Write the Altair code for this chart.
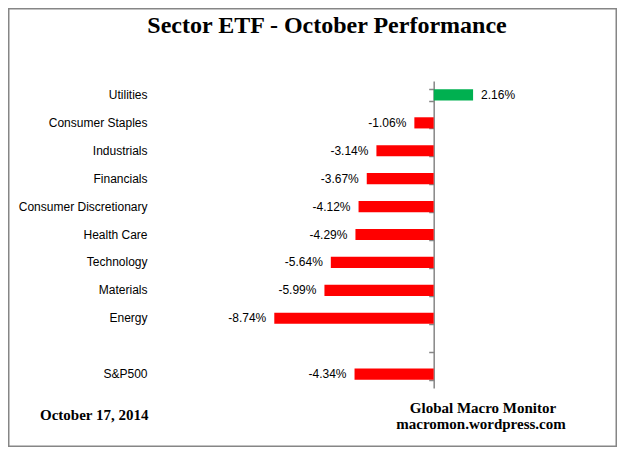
import altair as alt
import pandas as pd

# ---- data ----
categories = ["Utilities", "Consumer Staples", "Industrials", "Financials",
              "Consumer Discretionary", "Health Care", "Technology",
              "Materials", "Energy", "S&P500"]
returns = [2.16, -1.06, -3.14, -3.67, -4.12, -4.29, -5.64, -5.99, -8.74, -4.34]
slot_order = categories[:9] + [" "] + categories[9:]
title_text = ["Sector ETF - October Performance"]
date_text = ["October 17, 2014"]
source_lines = ["Global Macro Monitor", "macromon.wordpress.com"]

df = pd.DataFrame({"sector": categories, "ret": returns})
df["label"] = [f"{v:.2f}%" for v in returns]
df["sign"] = ["pos" if v >= 0 else "neg" for v in returns]

# ---- layout ----
W, H = 383, 307
XMIN, XMAX = -15.5, 5.5
PAD = {"left": 143, "top": 73, "right": 83, "bottom": 59}
zero_px = W * (0 - XMIN) / (XMAX - XMIN)
LABEL_FONT = "Liberation Sans"
SERIF = "Liberation Serif"
GREY = "#868686"

yscale = alt.Scale(domain=slot_order, paddingInner=0.6, paddingOuter=0.3)
xscale = alt.Scale(domain=[XMIN, XMAX], nice=False)
x_enc = alt.X("ret:Q", scale=xscale, axis=None)

label_axis = alt.Axis(orient="left", domain=False, ticks=False, labelPadding=4,
                      labelFontSize=12, labelFont=LABEL_FONT, labelColor="black",
                      labelLimit=300, grid=False, title=None)
tick_axis = alt.Axis(orient="left", offset=-zero_px, labels=False, domain=True,
                     domainColor=GREY, domainWidth=1.5, ticks=True, tickSize=5,
                     tickColor=GREY, tickWidth=1.5, tickBand="extent", grid=False,
                     title=None)

bars = alt.Chart(df).mark_bar().encode(
    x=x_enc,
    y=alt.Y("sector:N", scale=yscale, axis=label_axis),
    color=alt.Color("sign:N", scale=alt.Scale(domain=["pos", "neg"],
                                              range=["#00B050", "#FF0000"]),
                    legend=None),
)

neg_text = alt.Chart(df).transform_filter("datum.ret < 0").mark_text(
    align="right", baseline="middle", dx=-8, font=LABEL_FONT, fontSize=12,
    color="black").encode(
    x=x_enc,
    y=alt.Y("sector:N", scale=yscale, axis=tick_axis),
    text="label:N",
)

pos_text = alt.Chart(df).transform_filter("datum.ret >= 0").mark_text(
    align="left", baseline="middle", dx=8, font=LABEL_FONT, fontSize=12,
    color="black").encode(
    x=x_enc,
    y=alt.Y("sector:N", scale=yscale, axis=None),
    text="label:N",
)

title_mark = alt.Chart(pd.DataFrame({"t": title_text})).mark_text(
    align="center", baseline="alphabetic", font=SERIF, fontSize=24,
    fontWeight="bold", color="black").encode(
    text="t:N", x=alt.value(176), y=alt.value(-48))

date_mark = alt.Chart(pd.DataFrame({"t": date_text})).mark_text(
    align="left", baseline="alphabetic", font=SERIF, fontSize=15,
    fontWeight="bold", color="black").encode(
    text="t:N", x=alt.value(-111), y=alt.value(339))

src1 = alt.Chart(pd.DataFrame({"t": source_lines[:1]})).mark_text(
    align="center", baseline="alphabetic", font=SERIF, fontSize=15,
    fontWeight="bold", color="black").encode(
    text="t:N", x=alt.value(332), y=alt.value(332))
src2 = alt.Chart(pd.DataFrame({"t": source_lines[1:]})).mark_text(
    align="center", baseline="alphabetic", font=SERIF, fontSize=15,
    fontWeight="bold", color="black").encode(
    text="t:N", x=alt.value(330), y=alt.value(348))

frame = alt.Chart(pd.DataFrame({"a": [0]})).mark_rect(
    fillOpacity=0, stroke=GREY, strokeWidth=1.5).encode(
    x=alt.value(-142.25), x2=alt.value(465.25),
    y=alt.value(-72.25), y2=alt.value(365.25))

chart = alt.layer(frame, bars, neg_text, pos_text, title_mark, date_mark,
                  src1, src2).resolve_axis(
    y="independent"
).properties(
    width=W, height=H, padding=PAD,
    autosize=alt.AutoSizeParams(type="none"),
).configure(
    background="white",
    view=alt.ViewConfig(stroke="transparent", strokeWidth=0),
)

chart.save("out.html", embed_options={"renderer": "svg", "actions": False})
